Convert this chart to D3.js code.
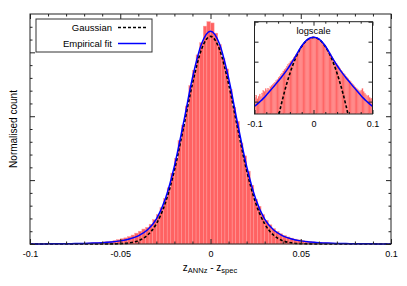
<!DOCTYPE html>
<html>
<head>
<meta charset="utf-8">
<script src="https://cdn.jsdelivr.net/npm/d3@7"></script>
<style>
  body { margin: 0; background: #fff; }
  svg { display: block; font-family: "Liberation Sans", Arial, sans-serif; }
</style>
</head>
<body>
<div id="chart"></div>
<script>
// Histogram of z_ANNz - z_spec, bins of 0.002 from -0.1 to 0.1 (left to right)
const binStart = -0.1;
const binWidth = 0.002;
const histCounts = [
    0.016, 0.021, 0.014, 0.019, 0.024, 0.018, 0.027, 0.036, 0.031, 0.044,
    0.038, 0.047, 0.042, 0.055, 0.062, 0.071, 0.083, 0.094, 0.112, 0.13,
    0.16, 0.19, 0.22, 0.27, 0.34, 0.41, 0.48, 0.58, 0.7, 0.85,
    1.0, 1.17, 1.3, 1.55, 1.9, 2.3, 2.85, 3.55, 4.4, 5.55,
    6.7, 8.1, 9.3, 10.8, 12.4, 13.6, 14.8, 15.75, 17.05, 17.4,
    17.3, 16.5, 15.6, 14.5, 13.7, 12.1, 10.7, 9.6, 7.9, 6.9,
    5.7, 4.6, 3.5, 2.95, 2.3, 1.85, 1.5, 1.2, 0.98, 0.8,
    0.66, 0.55, 0.46, 0.38, 0.32, 0.27, 0.23, 0.19, 0.165, 0.14,
    0.118, 0.1, 0.086, 0.074, 0.063, 0.054, 0.048, 0.041, 0.036, 0.033,
    0.038, 0.044, 0.031, 0.027, 0.022, 0.019, 0.021, 0.017, 0.014, 0.015
];

// Fitted curves, sampled every 0.005
const curveX = [
    -0.1, -0.095, -0.09, -0.085, -0.08, -0.075, -0.07, -0.065, -0.06, -0.055,
    -0.05, -0.045, -0.04, -0.035, -0.03, -0.025, -0.02, -0.015, -0.01, -0.005,
    0,
    0.005, 0.01, 0.015, 0.02, 0.025, 0.03, 0.035, 0.04, 0.045, 0.05,
    0.055, 0.06, 0.065, 0.07, 0.075, 0.08, 0.085, 0.09, 0.095, 0.1
];
const gaussianY = [
    9.4e-11, 1.2e-9, 1.3e-8, 1.2e-7, 1.0e-6, 7.7e-6, 5.0e-5, 0.00029, 0.00146, 0.00647,
    0.0252, 0.0861, 0.258, 0.682, 1.58, 3.22, 5.77, 9.08, 12.54, 15.23,
    16.25,
    15.23, 12.54, 9.08, 5.77, 3.22, 1.58, 0.682, 0.258, 0.0861, 0.0252,
    0.00647, 0.00146, 0.00029, 5.0e-5, 7.7e-6, 1.0e-6, 1.2e-7, 1.3e-8, 1.2e-9, 9.4e-11
];
const empiricalY = [
    0.0058, 0.0077, 0.0104, 0.0145, 0.021, 0.031, 0.046, 0.069, 0.104, 0.158,
    0.245, 0.39, 0.64, 1.1, 1.95, 3.55, 6.1, 9.45, 13.0, 15.65,
    16.65,
    15.65, 13.0, 9.45, 6.1, 3.55, 1.95, 1.1, 0.64, 0.39, 0.245,
    0.158, 0.104, 0.069, 0.046, 0.031, 0.021, 0.0145, 0.0104, 0.0077, 0.0058
];

// Tick values / labels
const xTicks = [-0.1, -0.05, 0, 0.05, 0.1];
const xTickLabels = ['-0.1', '-0.05', '0', '0.05', '0.1'];
const yTicks = [0, 5, 10, 15];
const insetXTicks = [-0.1, 0, 0.1];
const insetXTickLabels = ['-0.1', '0', '0.1'];
const insetYTicks = [0.01, 0.1, 1, 10, 100];

const legendItems = [
    { label: 'Gaussian', color: '#000', dash: '3,2' },
    { label: 'Empirical fit', color: '#0000ff', dash: null }
];

const barFill = '#ff6262';
const barEdge = '#ff9a9a';

function drawFrameAxes(g, x, y, opts) {
    const [x0, x1] = x.range();
    const [y0, y1] = y.range(); // y0 bottom, y1 top
    const major = opts.major, minor = opts.minor;

    // bottom (labelled) + top mirror
    const bottom = d3.axisBottom(x).tickValues(opts.xTicks).tickSizeInner(-major).tickSizeOuter(0)
        .tickPadding(opts.pad).tickFormat((d, i) => opts.xLabels[i]);
    const gb = g.append('g').attr('transform', `translate(0,${y0})`).call(bottom);
    const top = d3.axisTop(x).tickValues(opts.xTicks).tickSizeInner(-major).tickSizeOuter(0).tickFormat('');
    g.append('g').attr('transform', `translate(0,${y1})`).call(top);
    if (opts.xMinor) {
        g.append('g').attr('transform', `translate(0,${y0})`)
            .call(d3.axisBottom(x).tickValues(opts.xMinor).tickSizeInner(-minor).tickSizeOuter(0).tickFormat(''));
        g.append('g').attr('transform', `translate(0,${y1})`)
            .call(d3.axisTop(x).tickValues(opts.xMinor).tickSizeInner(-minor).tickSizeOuter(0).tickFormat(''));
    }
    // left + right
    g.append('g').attr('transform', `translate(${x0},0)`)
        .call(d3.axisLeft(y).tickValues(opts.yTicks).tickSizeInner(-major).tickSizeOuter(0).tickFormat(''));
    g.append('g').attr('transform', `translate(${x1},0)`)
        .call(d3.axisRight(y).tickValues(opts.yTicks).tickSizeInner(-major).tickSizeOuter(0).tickFormat(''));
    if (opts.yMinor) {
        g.append('g').attr('transform', `translate(${x0},0)`)
            .call(d3.axisLeft(y).tickValues(opts.yMinor).tickSizeInner(-minor).tickSizeOuter(0).tickFormat(''));
        g.append('g').attr('transform', `translate(${x1},0)`)
            .call(d3.axisRight(y).tickValues(opts.yMinor).tickSizeInner(-minor).tickSizeOuter(0).tickFormat(''));
    }
    g.selectAll('.domain').remove();
    g.selectAll('.tick line').attr('stroke', '#222');
    gb.selectAll('.tick text').attr('font-size', 9).attr('fill', '#000')
        .attr('font-family', '"Liberation Sans", Arial, sans-serif');

    // frame
    g.append('rect')
        .attr('x', x0).attr('y', y1)
        .attr('width', x1 - x0).attr('height', y0 - y1)
        .attr('fill', 'none').attr('stroke', '#222').attr('stroke-width', 1);
}

function drawChart() {
    const width = 407, height = 286;
    const svg = d3.select('#chart').append('svg')
        .attr('width', width).attr('height', height);
    const defs = svg.append('defs');

    const bins = histCounts.map((v, i) => ({ x0: binStart + i * binWidth, x1: binStart + (i + 1) * binWidth, v }));
    const curves = {
        gauss: curveX.map((d, i) => [d, gaussianY[i]]),
        emp: curveX.map((d, i) => [d, empiricalY[i]])
    };

    // ---- main panel ----
    const x = d3.scaleLinear().domain([-0.1, 0.1]).range([30, 391]);
    const y = d3.scaleLinear().domain([0, 18]).range([244, 14]);

    const main = svg.append('g');
    main.selectAll('rect.bar')
        .data(bins).enter().append('rect')
        .attr('class', 'bar')
        .attr('x', d => x(d.x0))
        .attr('width', d => x(d.x1) - x(d.x0))
        .attr('y', d => y(d.v))
        .attr('height', d => y(0) - y(d.v))
        .attr('fill', barFill)
        .attr('stroke', barEdge)
        .attr('stroke-width', 0.5);

    const line = d3.line().x(d => x(d[0])).y(d => y(d[1])).curve(d3.curveMonotoneX);
    main.append('path').attr('d', line(curves.gauss))
        .attr('fill', 'none').attr('stroke', '#000').attr('stroke-width', 1.6).attr('stroke-dasharray', '3,2');
    main.append('path').attr('d', line(curves.emp))
        .attr('fill', 'none').attr('stroke', '#0000ff').attr('stroke-width', 1.5);

    drawFrameAxes(main, x, y, {
        xTicks: xTicks, xLabels: xTickLabels,
        xMinor: d3.range(-10, 11).map(i => i / 100).filter(v => Math.abs(v * 100) % 5 !== 0),
        yTicks: yTicks,
        yMinor: d3.range(1, 18).filter(v => v % 5 !== 0),
        major: 5, minor: 2.5, pad: 6.6
    });

    // axis titles
    const xt = svg.append('text').attr('x', 210).attr('y', 270.5)
        .attr('text-anchor', 'middle').attr('font-size', 10);
    xt.append('tspan').text('z');
    xt.append('tspan').attr('font-size', 7.5).attr('dy', 2.5).text('ANNz');
    xt.append('tspan').attr('dy', -2.5).text(' - z');
    xt.append('tspan').attr('font-size', 7.5).attr('dy', 2.5).text('spec');

    svg.append('text')
        .attr('transform', 'translate(16.5,129) rotate(-90)')
        .attr('text-anchor', 'middle').attr('font-size', 10)
        .text('Normalised count');

    // legend
    const lg = svg.append('g');
    lg.append('rect').attr('x', 36).attr('y', 19).attr('width', 116).attr('height', 33)
        .attr('fill', '#fff').attr('stroke', '#333').attr('stroke-width', 1);
    legendItems.forEach((item, i) => {
        const ly = 27.5 + i * 16;
        lg.append('text').attr('x', 112).attr('y', ly + 3.2)
            .attr('text-anchor', 'end').attr('font-size', 9.5).text(item.label);
        lg.append('line').attr('x1', 118).attr('x2', 146).attr('y1', ly).attr('y2', ly)
            .attr('stroke', item.color).attr('stroke-width', 1.5)
            .attr('stroke-dasharray', item.dash);
    });

    // ---- inset (log scale) ----
    const xi = d3.scaleLinear().domain([-0.1, 0.1]).range([254.5, 372.5]);
    const yi = d3.scaleLog().domain([0.0024, 100]).range([114, 21.7]);

    const inset = svg.append('g');
    inset.append('rect').attr('x', 254.5).attr('y', 21.7).attr('width', 118).attr('height', 92.3)
        .attr('fill', '#fff');

    defs.append('clipPath').attr('id', 'inset-clip')
        .append('rect').attr('x', 254.5).attr('y', 21.7).attr('width', 118).attr('height', 92.3);

    const ib = inset.append('g').attr('clip-path', 'url(#inset-clip)');
    ib.selectAll('rect.ibar')
        .data(bins).enter().append('rect')
        .attr('class', 'ibar')
        .attr('x', d => xi(d.x0))
        .attr('width', d => xi(d.x1) - xi(d.x0))
        .attr('y', d => yi(d.v))
        .attr('height', d => yi.range()[0] - yi(d.v))
        .attr('fill', barFill)
        .attr('stroke', barEdge)
        .attr('stroke-width', 0.25);

    const iline = d3.line().x(d => xi(d[0])).y(d => yi(d[1])).curve(d3.curveMonotoneX);
    ib.append('path').attr('d', iline(curves.gauss))
        .attr('fill', 'none').attr('stroke', '#000').attr('stroke-width', 1.6).attr('stroke-dasharray', '3,2');
    ib.append('path').attr('d', iline(curves.emp))
        .attr('fill', 'none').attr('stroke', '#0000ff').attr('stroke-width', 1.5);

    drawFrameAxes(inset, xi, yi, {
        xTicks: insetXTicks, xLabels: insetXTickLabels,
        xMinor: d3.range(-5, 6).map(i => i / 50).filter(v => Math.abs(Math.round(v * 50)) % 5 !== 0),
        yTicks: insetYTicks,
        yMinor: null,
        major: 4, minor: 2, pad: 6.5
    });

    inset.append('text').attr('x', 313.5).attr('y', 34)
        .attr('text-anchor', 'middle').attr('font-size', 9.3).text('logscale');
}

document.addEventListener('DOMContentLoaded', drawChart);
</script>
</body>
</html>
